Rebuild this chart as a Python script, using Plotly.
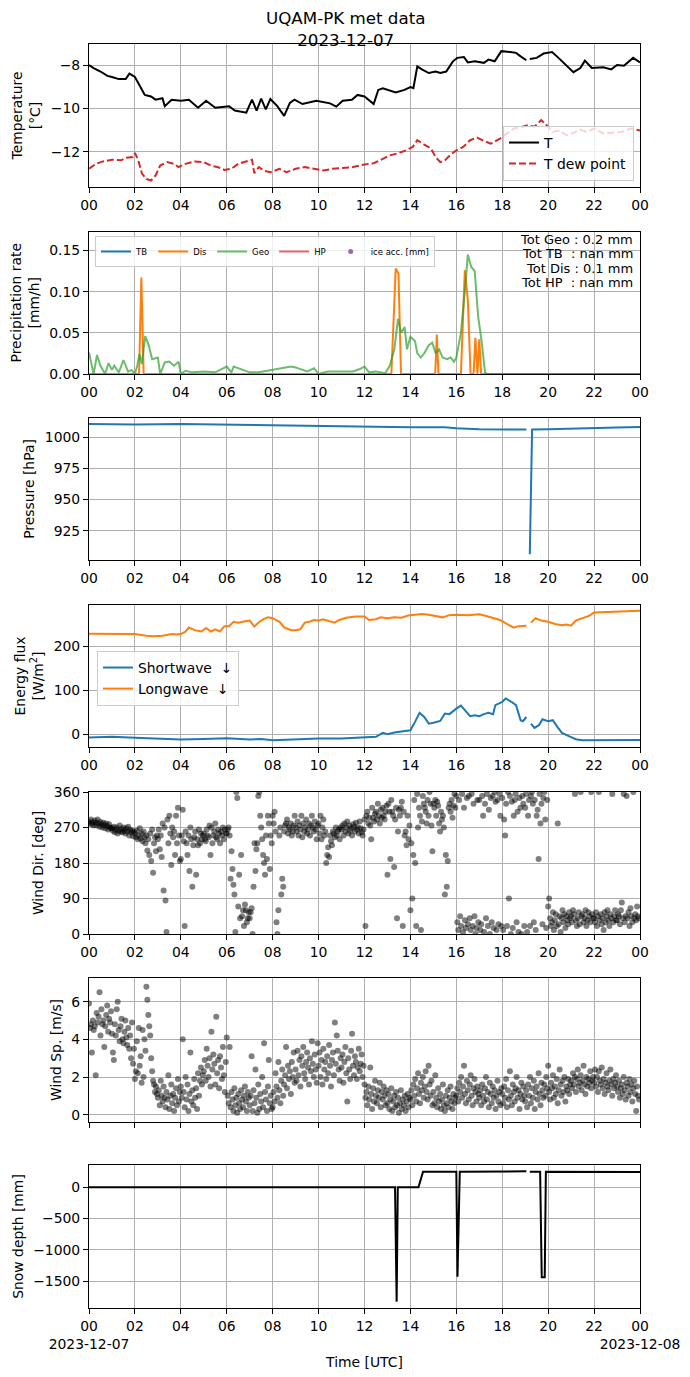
import plotly.graph_objects as go

# ---------------- data (hours UTC on 2023-12-07) ----------------
HOUR_TICKS = [0, 2, 4, 6, 8, 10, 12, 14, 16, 18, 20, 22, 24]
HOUR_LABELS = ["00", "02", "04", "06", "08", "10", "12", "14", "16", "18", "20", "22", "00"]
DATE_START = "2023-12-07"
DATE_END = "2023-12-08"

T_TIME = [0, 0.2, 0.5, 0.8, 1.0, 1.3, 1.6, 1.76, 2.0, 2.25, 2.43, 2.7, 2.9, 3.2, 3.3, 3.6, 4.0, 4.35, 4.75, 5.1,
          5.5, 6.1, 6.35, 6.85, 7.1, 7.3, 7.5, 7.7, 7.9, 8.2, 8.5, 8.75, 8.95, 9.3, 9.9, 10.5, 10.77, 11.05, 11.45, 11.7,
          12.0, 12.4, 12.6, 12.8, 13.07, 13.36, 13.74, 14.0, 14.13, 14.3, 14.5, 14.8, 15.1, 15.3, 15.56, 15.85, 16.04,
          16.33, 16.5, 16.8, 17.2, 17.4, 17.67, 17.96, 18.35, 18.6, 18.8, 19.05, 19.1, 19.2, 19.5, 19.8, 20.17, 20.45,
          20.74, 21.1, 21.4, 21.6, 21.9, 22.4, 22.75, 23.0, 23.3, 23.7, 24.0]
T_VAL = [-8.0, -8.14, -8.3, -8.5, -8.55, -8.65, -8.65, -8.4, -8.55, -9.0, -9.38, -9.45, -9.6, -9.53, -9.9, -9.6, -9.65,
         -9.6, -9.97, -9.65, -9.97, -9.9, -10.1, -10.2, -9.6, -10.1, -9.55, -10.05, -9.57, -9.9, -10.35, -9.75, -9.6,
         -9.8, -9.65, -9.77, -9.92, -9.65, -9.6, -9.38, -9.45, -9.8, -9.15, -9.07, -9.15, -9.27, -9.15, -9.02, -9.07,
         -8.06, -8.2, -8.37, -8.3, -8.37, -8.3, -7.83, -7.67, -7.63, -7.88, -7.83, -7.9, -7.75, -7.83, -7.36, -7.4,
         -7.44, -7.6, -7.78, None, -7.72, -7.67, -7.47, -7.4, -7.67, -7.98, -8.33, -8.14, -7.8, -8.14, -8.1, -8.2, -8.0,
         -8.03, -7.67, -7.88]

TD_TIME = [0, 0.3, 0.6, 1.0, 1.4, 1.6, 1.9, 2.0, 2.15, 2.3, 2.5, 2.7, 2.9, 3.1, 3.4, 3.7, 3.9, 4.2, 4.6, 5.0, 5.3, 5.6,
           5.9, 6.2, 6.5, 6.8, 7.1, 7.2, 7.4, 7.6, 7.9, 8.3, 8.6, 9.0, 9.4, 9.8, 10.2, 10.6, 11.0, 11.5, 12.0, 12.4,
           12.8, 13.1, 13.5, 13.8, 14.1, 14.3, 14.6, 14.9, 15.1, 15.3, 15.5, 15.8, 16.0, 16.3, 16.6, 16.9, 17.2, 17.5,
           17.9, 18.2, 18.5, 18.8, 19.1, 19.4, 19.7, 19.9, 20.2, 20.5, 20.8, 21.1, 21.4, 21.7, 22.0, 22.4, 22.8, 23.2,
           23.6, 24.0]
TD_VAL = [-12.79, -12.56, -12.45, -12.37, -12.4, -12.28, -12.25, -12.06, -12.4, -13.0, -13.26, -13.33, -13.1, -12.64,
          -12.48, -12.56, -12.71, -12.56, -12.45, -12.48, -12.64, -12.71, -12.84, -12.79, -12.56, -12.48, -12.37,
          -12.99, -12.71, -12.87, -12.95, -12.79, -12.95, -12.79, -12.71, -12.79, -12.87, -12.79, -12.76, -12.71,
          -12.59, -12.53, -12.33, -12.17, -12.06, -11.94, -11.78, -11.47, -11.67, -11.86, -12.25, -12.48, -12.4,
          -12.09, -11.94, -11.78, -11.47, -11.35, -11.5, -11.63, -11.4, -11.16, -10.93, -10.88, -10.78, -10.85,
          -10.54, -10.74, -11.09, -11.02, -11.24, -11.13, -10.98, -11.09, -10.93, -11.16, -11.13, -11.09, -10.93,
          -11.02]

# TB and HP gauges reported no data (nan) for the day
NAN_TIME = [0, 24]
TB_VAL = [None, None]
HP_VAL = [None, None]
ICE_VAL = [None, None]

DIS_TIME = [0, 2.18, 2.28, 2.38, 13.17, 13.36, 13.48, 13.59, 15.08, 15.15, 15.22, 16.2, 16.37, 16.5, 16.62, 16.75,
            16.83, 16.92, 17.0, 17.08, 24]
DIS_VAL = [0, 0, 0.117, 0, 0, 0.128, 0.122, 0, 0, 0.048, 0, 0, 0.126, 0.09, 0, 0, 0.044, 0, 0.042, 0, 0]

GEO_TIME = [0, 0.1, 0.2, 0.35, 0.5, 0.7, 0.85, 1.0, 1.1, 1.3, 1.5, 1.7, 1.85, 2.0, 2.1, 2.2, 2.3, 2.45, 2.6, 2.75,
            3.0, 3.1, 3.3, 3.5, 3.7, 3.9, 4.0, 4.2, 4.5, 5.0, 5.5, 6.0, 6.2, 6.3, 6.6, 7.0, 7.4, 8.2, 8.5, 8.8, 9.0,
            9.5, 9.8, 10.0, 10.4, 11.5, 11.8, 12.0, 12.2, 12.5, 12.9, 13.1, 13.3, 13.46, 13.6, 13.75, 13.85, 14.0,
            14.2, 14.3, 14.45, 14.6, 14.8, 14.95, 15.1, 15.25, 15.4, 15.6, 15.75, 15.9, 16.0, 16.2, 16.4, 16.5, 16.65,
            16.8, 16.95, 17.1, 17.25, 17.35, 24.0]
GEO_VAL = [0.026, 0.012, 0.0, 0.023, 0.01, 0.0, 0.013, 0.005, 0.01, 0.002, 0.017, 0.003, 0.005, 0.0, 0.01, 0.024,
           0.012, 0.046, 0.035, 0.018, 0.02, 0.0, 0.014, 0.015, 0.01, 0.015, 0.0, 0.004, 0.002, 0.003, 0.002, 0.009,
           0.002, 0.009, 0.006, 0.002, 0.002, 0.006, 0.007, 0.009, 0.008, 0.003, 0.007, 0.0, 0.003, 0.003, 0.006,
           0.009, 0.002, 0.003, 0.001, 0.01, 0.03, 0.067, 0.05, 0.057, 0.03, 0.045, 0.04, 0.025, 0.02, 0.025, 0.035,
           0.038, 0.025, 0.03, 0.02, 0.018, 0.02, 0.015, 0.02, 0.05, 0.11, 0.145, 0.13, 0.125, 0.07, 0.04, 0.002,
           0.0, 0.0]

PRECIP_TOTALS = ["Tot Geo : 0.2 mm", "Tot TB\u00a0 : nan mm", "Tot Dis : 0.1 mm", "Tot HP\u00a0 : nan mm"]

P_TIME = [0, 2, 4, 6, 8, 10, 10.2, 12, 14, 15.5, 16, 17, 18.5, 19.05, 19.12, 19.2, 19.3, 20, 21, 22, 23, 24]
P_VAL = [1010.7, 1010.2, 1010.7, 1010.1, 1009.6, 1009.1, 1008.6, 1008.6, 1008.0, 1008.0, 1007.2, 1006.4, 1005.9,
         1006.2, None, 906, 1006.3, 1006.4, 1006.7, 1007.2, 1007.8, 1008.3]

LW_TIME = [0, 1, 2, 2.5, 2.8, 3.2, 3.6, 3.8, 4.0, 4.2, 4.35, 4.6, 4.9, 5.1, 5.3, 5.5, 5.7, 5.9, 6.1, 6.3, 6.5, 6.8,
           7.0, 7.2, 7.4, 7.6, 7.8, 8.0, 8.3, 8.5, 8.8, 9.0, 9.2, 9.4, 9.6, 9.8, 10.0, 10.2, 10.5, 10.7, 10.9, 11.2,
           11.6, 12.0, 12.2, 12.5, 12.7, 13.0, 13.3, 13.6, 13.9, 14.2, 14.5, 14.8, 15.2, 15.4, 15.7, 16.0, 16.5, 17.0,
           17.3, 17.6, 17.9, 18.2, 18.5, 18.7, 19.05, 19.15, 19.25, 19.45, 19.7, 20.0, 20.3, 20.6, 20.8, 21.0, 21.2,
           21.5, 21.8, 22.0, 22.5, 23.0, 23.5, 24.0]
LW_VAL = [228, 227, 227, 223.5, 222, 223.5, 227, 226, 227, 232.6, 242, 236, 233, 241, 233, 238, 233, 245, 245, 255,
          253, 256, 257.6, 244, 254, 261, 265, 263, 255, 242, 236, 236, 238, 253, 255, 259, 257.6, 260.6, 257, 253,
          259, 264, 267, 267, 259, 260.6, 265, 263, 265, 264, 269, 270, 272.7, 271, 268, 265, 270, 271, 270, 272,
          268, 263, 259, 250, 241.7, 245, 246, None, 253, 263, 257.6, 255, 250, 247, 248.5, 246, 257.6, 263, 269,
          275.8, 276.5, 278, 278.8, 280]

SW_TIME = [0, 1, 2, 3, 4, 5, 6, 7, 7.5, 8, 9, 10, 11, 12, 12.5, 12.8, 13.0, 13.3, 13.7, 14.0, 14.2, 14.4, 14.6, 14.8,
           15.0, 15.3, 15.5, 15.7, 16.0, 16.2, 16.4, 16.6, 16.8, 17.0, 17.2, 17.4, 17.6, 17.7, 18.0, 18.15, 18.4,
           18.6, 18.8, 18.9, 19.05, 19.15, 19.25, 19.4, 19.6, 19.75, 20.0, 20.2, 20.4, 20.6, 20.9, 21.2, 21.5, 22,
           23, 24]
SW_VAL = [-7.6, -6, -8.3, -10.6, -12, -10.6, -9, -12, -10.6, -13.6, -11.4, -9.8, -9.8, -8.3, -6, 3, 0, 3.8, 6, 9, 28,
          48.5, 39, 24, 25.8, 30, 47, 45.5, 58, 65, 53, 41, 43, 41, 45.5, 48.5, 45.5, 66, 73.5, 81, 73.5, 66, 31.8,
          29.5, 39, None, 24, 14.4, 20.5, 34, 29.5, 31.8, 16.7, 3, -4.5, -11.4, -13.6, -13.6, -13, -12.9]

# wind: 24 samples per hour (one row per hour)
WIND_SAMPLES_PER_HOUR = 24
WD_ROWS = [
    [285, 280, 290, 278, 283, 275, 288, 282, 276, 290, 280, 272, 284, 278, 270, 282, 276, 268, 280, 274, 265, 278, 270, 268],
    [268, 262, 272, 258, 265, 270, 255, 262, 275, 260, 266, 258, 270, 262, 255, 268, 260, 272, 250, 264, 258, 262, 248, 260],
    [255, 245, 262, 240, 250, 268, 242, 255, 235, 260, 245, 230, 250, 212, 240, 200, 255, 185, 265, 155, 230, 245, 210, 250],
    [240, 265, 215, 250, 195, 280, 110, 270, 85, 5, 290, 230, 300, 255, 175, 270, 245, 260, 200, 300, 230, 320, 250, 185],
    [190, 250, 315, 235, 20, 260, 230, 200, 250, 160, 270, 240, 120, 225, 245, 260, 150, 240, 225, 265, 230, 255, 240, 250],
    [255, 240, 235, 265, 250, 245, 275, 200, 270, 230, 250, 260, 280, 245, 240, 265, 255, 230, 260, 250, 270, 240, 265, 255],
    [255, 265, 270, 250, 140, 210, 165, 125, 100, 5, 360, 345, 70, 150, 40, 200, 45, 60, 20, 75, 60, 30, 40, 55],
    [40, 55, 65, 0, 120, 230, 160, 215, 230, 350, 360, 300, 270, 240, 200, 180, 150, 250, 190, 300, 280, 165, 250, 230],
    [300, 280, 310, 260, 30, 0, 60, 250, 270, 100, 140, 120, 260, 275, 280, 290, 255, 270, 265, 280, 250, 260, 275, 300],
    [270, 260, 285, 250, 275, 265, 300, 245, 280, 260, 270, 290, 255, 265, 280, 250, 275, 300, 270, 260, 285, 265, 240, 275],
    [280, 255, 300, 240, 270, 290, 250, 260, 180, 200, 220, 195, 250, 235, 225, 260, 255, 245, 270, 250, 260, 265, 240, 270],
    [265, 275, 250, 280, 260, 270, 285, 255, 275, 262, 268, 250, 278, 272, 260, 282, 265, 270, 255, 285, 268, 258, 250, 265],
    [290, 20, 300, 310, 280, 295, 275, 240, 320, 295, 285, 305, 310, 290, 330, 300, 280, 315, 295, 320, 300, 290, 310, 325],
    [150, 330, 310, 190, 340, 310, 300, 170, 290, 320, 40, 260, 315, 300, 320, 335, 20, 310, 250, 260, 225, 300, 240, 275],
    [60, 230, 90, 200, 340, 180, 20, 355, 270, 320, 300, 10, 285, 350, 330, 320, 310, 280, 340, 300, 360, 330, 275, 210],
    [330, 320, 340, 300, 335, 325, 280, 260, 310, 290, 300, 270, 100, 200, 120, 185, 320, 330, 310, 340, 295, 325, 355, 320],
    [350, 30, 10, 340, 45, 20, 355, 5, 320, 35, 15, 345, 25, 350, 40, 10, 355, 20, 330, 45, 0, 15, 340, 30],
    [340, 10, 25, 350, 300, 5, 330, 40, 355, 20, 315, 0, 345, 30, 350, 15, 360, 335, 10, 340, 25, 355, 300, 20],
    [345, 10, 290, 250, 330, 20, 360, 90, 350, 0, 335, 15, 300, 340, 355, 30, 310, 5, 345, 320, 0, 350, 330, 20],
    [320, 355, 5, 300, 340, 20, 350, 360, 330, 30, 340, 10, 300, 315, 190, 355, 280, 330, 25, 345, 360, 290, 15, 340],
    [70, 90, 40, 20, 30, 55, 10, 35, 50, 20, 280, 25, 45, 5, 40, 60, 30, 50, 15, 45, 35, 25, 55, 40],
    [45, 30, 60, 50, 355, 35, 20, 40, 55, 25, 360, 45, 50, 30, 40, 60, 20, 35, 55, 45, 30, 360, 50, 40],
    [40, 30, 55, 20, 45, 360, 35, 50, 25, 40, 10, 55, 30, 45, 60, 35, 20, 50, 40, 355, 30, 45, 60, 35],
    [35, 50, 45, 25, 60, 80, 40, 355, 30, 45, 350, 40, 55, 20, 65, 45, 30, 360, 40, 50, 35, 70, 45, 40],
]
WS_ROWS = [
    [5.9, 4.6, 4.8, 3.3, 5.0, 4.5, 4.7, 2.1, 5.4, 4.9, 5.2, 6.5, 4.2, 5.6, 4.8, 5.0, 3.6, 4.7, 5.3, 5.8, 4.4, 5.1, 4.9, 5.5],
    [4.3, 3.3, 2.9, 4.8, 4.2, 5.6, 6.0, 4.5, 3.9, 4.7, 5.1, 4.0, 3.8, 4.4, 5.0, 4.1, 3.7, 4.6, 3.5, 4.2, 3.0, 4.9, 2.7, 3.5],
    [1.9, 2.3, 3.9, 2.2, 4.6, 2.6, 3.1, 1.7, 4.5, 2.0, 4.0, 3.4, 6.8, 6.1, 5.3, 4.7, 4.2, 3.0, 2.3, 1.8, 1.6, 1.2, 1.5, 1.1],
    [0.9, 1.3, 0.5, 1.8, 1.0, 0.7, 1.5, 0.9, 0.4, 1.2, 0.8, 2.1, 0.3, 1.0, 1.6, 0.6, 1.1, 0.2, 0.9, 1.4, 0.5, 1.9, 0.7, 1.2],
    [1.5, 0.9, 4.0, 1.2, 0.4, 2.0, 0.8, 1.6, 0.2, 1.1, 3.3, 0.7, 1.3, 0.5, 1.9, 0.9, 1.4, 0.3, 2.2, 1.0, 1.8, 2.5, 1.6, 2.1],
    [2.3, 2.9, 1.8, 3.5, 2.6, 2.0, 3.0, 1.5, 4.4, 2.4, 3.2, 2.7, 1.6, 5.2, 2.2, 2.9, 1.4, 3.1, 2.5, 1.9, 3.6, 2.1, 1.2, 2.8],
    [4.1, 1.0, 0.6, 3.6, 0.4, 1.2, 0.8, 0.2, 1.4, 0.5, 0.9, 0.1, 1.1, 0.6, 0.3, 1.3, 0.8, 0.4, 1.0, 1.5, 0.7, 0.2, 1.2, 0.9],
    [0.5, 1.0, 3.1, 0.2, 1.3, 0.6, 2.4, 0.9, 0.1, 1.6, 0.3, 1.1, 0.7, 2.0, 0.4, 3.8, 1.2, 0.8, 0.2, 1.5, 2.9, 0.6, 1.0, 0.3],
    [0.4, 1.2, 0.7, 2.2, 1.5, 0.9, 2.8, 1.3, 0.6, 1.8, 2.4, 1.0, 1.6, 2.1, 3.6, 1.4, 2.6, 1.9, 2.3, 1.1, 2.8, 2.0, 3.3, 1.7],
    [2.4, 1.8, 3.4, 2.1, 2.9, 1.5, 3.1, 2.6, 3.6, 2.2, 1.9, 2.8, 3.3, 2.5, 1.6, 3.0, 2.3, 3.9, 2.7, 2.0, 3.2, 2.4, 1.7, 3.8],
    [2.6, 3.3, 2.0, 2.9, 1.6, 3.5, 2.4, 2.8, 1.9, 3.1, 2.2, 3.7, 2.6, 1.5, 2.9, 3.3, 2.1, 4.9, 2.7, 4.2, 3.4, 2.4, 1.8, 3.0],
    [2.5, 3.2, 1.7, 2.8, 3.6, 2.2, 0.7, 3.0, 2.4, 1.9, 3.4, 4.3, 2.6, 2.1, 3.1, 2.8, 1.9, 2.5, 3.5, 2.3, 2.7, 3.2, 2.0, 2.6],
    [1.6, 0.9, 1.2, 0.5, 1.5, 0.8, 2.5, 1.1, 0.3, 1.4, 0.7, 1.8, 1.0, 0.6, 1.3, 0.9, 1.7, 0.4, 1.2, 0.8, 1.5, 1.0, 0.5, 1.3],
    [0.6, 1.1, 0.3, 0.8, 1.4, 0.2, 0.7, 1.0, 0.4, 1.2, 0.5, 0.9, 0.1, 0.6, 1.3, 0.3, 0.8, 0.5, 1.0, 0.2, 0.7, 1.1, 0.4, 0.9],
    [0.8, 1.3, 0.5, 1.6, 1.0, 1.9, 0.7, 1.4, 2.2, 1.1, 0.6, 1.7, 1.3, 2.0, 0.9, 1.5, 2.3, 1.2, 0.8, 2.6, 1.6, 1.0, 1.8, 0.5],
    [1.2, 0.6, 2.1, 0.9, 0.4, 1.4, 0.7, 1.1, 0.3, 0.8, 1.6, 0.5, 0.2, 1.0, 0.6, 1.3, 0.4, 0.9, 1.5, 0.7, 0.3, 1.1, 0.6, 0.9],
    [1.0, 1.4, 0.7, 1.7, 1.2, 2.0, 0.9, 1.5, 2.6, 1.1, 0.6, 1.8, 1.3, 0.8, 1.6, 2.1, 1.0, 0.5, 1.4, 1.9, 1.2, 0.7, 1.5, 1.1],
    [0.9, 1.3, 0.5, 1.6, 1.0, 0.7, 1.4, 2.0, 0.8, 1.2, 0.4, 1.7, 1.1, 0.6, 1.5, 0.9, 1.3, 0.3, 1.0, 1.8, 0.7, 1.2, 0.5, 1.4],
    [1.1, 0.6, 1.5, 0.9, 1.9, 0.4, 1.3, 0.8, 2.3, 1.0, 0.5, 1.6, 1.2, 0.7, 1.4, 2.0, 0.9, 1.3, 0.3, 1.1, 1.7, 0.8, 1.5, 1.0],
    [0.7, 1.3, 0.4, 1.6, 1.0, 2.0, 0.6, 1.4, 0.9, 1.8, 0.3, 1.2, 1.5, 0.8, 2.2, 1.1, 0.5, 1.7, 1.3, 0.9, 1.6, 1.0, 2.0, 1.4],
    [2.6, 1.2, 0.8, 1.7, 1.4, 2.1, 0.9, 1.5, 1.1, 1.9, 0.6, 1.3, 2.4, 1.6, 1.0, 1.8, 1.2, 2.0, 0.7, 1.5, 1.3, 1.9, 1.1, 1.6],
    [1.8, 1.4, 2.2, 1.6, 2.0, 1.2, 1.9, 2.4, 1.5, 1.7, 2.1, 1.3, 1.8, 2.6, 1.6, 1.1, 2.0, 1.5, 1.9, 1.7, 2.3, 1.4, 1.8, 2.0],
    [1.7, 2.4, 1.5, 2.0, 1.2, 2.3, 1.8, 1.6, 2.5, 1.4, 1.9, 1.1, 1.7, 2.2, 1.5, 1.3, 1.8, 2.4, 1.6, 1.0, 1.9, 1.4, 1.7, 2.1],
    [1.5, 1.2, 1.8, 0.9, 1.4, 1.6, 1.1, 2.0, 1.3, 0.8, 1.7, 1.5, 1.0, 1.9, 1.2, 1.6, 0.7, 1.4, 1.8, 1.1, 0.2, 1.5, 1.0, 0.8],
]

SD_TIME = [0, 13.33, 13.4, 13.45, 13.5, 14.35, 14.55, 16.0, 16.05, 16.15, 19.05, 19.12, 19.2, 19.65, 19.72, 19.85, 19.9, 24]
SD_VAL = [0, 0, -1830, 0, 0, 0, 250, 250, -1430, 250, 255, None, 250, 250, -1440, -1440, 250, 245]

# ---------------- derived sampling times for wind ----------------
WIND_T, WD_VAL, WS_VAL = [], [], []
for h, (rd, rs) in enumerate(zip(WD_ROWS, WS_ROWS)):
    for k, (d, s) in enumerate(zip(rd, rs)):
        WIND_T.append(h + k / WIND_SAMPLES_PER_HOUR)
        WD_VAL.append(d)
        WS_VAL.append(s)

# ---------------- figure ----------------
W, H = 690, 1377
FONT = "DejaVu Sans"
FS = 13.9
X_DOM = [89 / W, 640 / W]
PANELS_PX = [(44, 187), (231.5, 374), (418, 560), (605, 747), (792, 934), (978, 1122), (1165, 1308)]
Y_DOMS = [[1 - b / H, 1 - t / H] for t, b in PANELS_PX]

C_BLUE, C_ORANGE, C_GREEN, C_RED, C_PURPLE = "#1f77b4", "#ff7f0e", "#2ca02c", "#d62728", "#9467bd"
DOT = "rgba(0,0,0,0.5)"

fig = go.Figure()

def sc(x, y, n, **kw):
    ax = "" if n == 1 else str(n)
    fig.add_trace(go.Scatter(x=x, y=y, xaxis="x" + ax, yaxis="y" + ax, **kw))

# panel 1
sc(T_TIME, T_VAL, 1, mode="lines", name="T", line=dict(color="black", width=2), legend="legend")
sc(TD_TIME, TD_VAL, 1, mode="lines", name="T dew point", line=dict(color=C_RED, width=2, dash="7px,3px"),
   legend="legend")
# panel 2
sc(NAN_TIME, TB_VAL, 2, mode="lines", name="TB", line=dict(color=C_BLUE, width=2), legend="legend2")
sc(DIS_TIME, DIS_VAL, 2, mode="lines", name="Dis", line=dict(color=C_ORANGE, width=2), legend="legend2")
sc(GEO_TIME, GEO_VAL, 2, mode="lines", name="Geo", line=dict(color="rgba(44,160,44,0.7)", width=2),
   legend="legend2")
sc(NAN_TIME, HP_VAL, 2, mode="lines", name="HP", line=dict(color="rgba(214,39,40,0.7)", width=2), legend="legend2")
sc(NAN_TIME, ICE_VAL, 2, mode="markers", name="ice acc. [mm]", marker=dict(color=C_PURPLE, size=5),
   legend="legend2")
# panel 3
sc(P_TIME, P_VAL, 3, mode="lines", line=dict(color=C_BLUE, width=2), showlegend=False)
# panel 4
sc(SW_TIME, SW_VAL, 4, mode="lines", name="Shortwave\u00a0 \u2193", line=dict(color=C_BLUE, width=2),
   legend="legend3")
sc(LW_TIME, LW_VAL, 4, mode="lines", name="Longwave\u00a0 \u2193", line=dict(color=C_ORANGE, width=2),
   legend="legend3")
# panel 5, 6
sc(WIND_T, WD_VAL, 5, mode="markers", marker=dict(color=DOT, size=6), showlegend=False)
sc(WIND_T, WS_VAL, 6, mode="markers", marker=dict(color=DOT, size=6), showlegend=False)
# panel 7
sc(SD_TIME, SD_VAL, 7, mode="lines", line=dict(color="black", width=2), showlegend=False)

Y_TITLES = ["Temperature<br>[°C]", "Precipitation rate<br>[mm/h]", "Pressure [hPa]",
            "Energy flux<br>[W/m<sup>2</sup>]", "Wind Dir. [deg]", "Wind Sp. [m/s]", "Snow depth [mm]"]
Y_RANGES = [[-13.63, -7.03], [0, 0.173], [901.4, 1015.5], [-29, 293], [0, 360], [-0.39, 7.26], [-1932, 357]]
Y_TICKS = [[-12, -10, -8], [0, 0.05, 0.10, 0.15], [925, 950, 975, 1000], [0, 100, 200],
           [0, 90, 180, 270, 360], [0, 2, 4, 6], [-1500, -1000, -500, 0]]

axis_common = dict(showgrid=True, gridcolor="#b0b0b0", gridwidth=1, showline=True, mirror=True,
                   linecolor="black", linewidth=1.1, ticks="outside", ticklen=5, tickwidth=1.1,
                   tickcolor="black", zeroline=False, automargin=False, tickangle=0,
                   tickfont=dict(family=FONT, size=FS, color="black"))

layout = dict(width=W, height=H, autosize=False, margin=dict(l=0, r=0, t=0, b=0),
              paper_bgcolor="white", plot_bgcolor="white",
              font=dict(family=FONT, size=FS, color="black"))

for i in range(7):
    n = i + 1
    ax = "" if n == 1 else str(n)
    if n == 6:
        ticktext = [""] * len(HOUR_TICKS)
    elif n == 7:
        ticktext = list(HOUR_LABELS)
        ticktext[0] = HOUR_LABELS[0] + "<br>" + DATE_START
        ticktext[-1] = HOUR_LABELS[-1] + "<br>" + DATE_END
    else:
        ticktext = HOUR_LABELS
    xa = dict(axis_common, domain=X_DOM, range=[0, 24], tickmode="array", tickvals=HOUR_TICKS,
              ticktext=ticktext, anchor="y" + ax)
    if n == 7:
        xa["title"] = dict(text="Time [UTC]", font=dict(family=FONT, size=FS), standoff=6)
    ya = dict(axis_common, domain=Y_DOMS[i], range=Y_RANGES[i], tickmode="array", tickvals=Y_TICKS[i],
              anchor="x" + ax, title=dict(text=Y_TITLES[i], font=dict(family=FONT, size=FS), standoff=6))
    if n == 2:
        ya["tickformat"] = ".2f"
    layout["xaxis" + ax] = xa
    layout["yaxis" + ax] = ya

layout["legend"] = dict(x=634 / W, y=1 - 181 / H, xanchor="right", yanchor="bottom",
                        bgcolor="rgba(255,255,255,0.8)", bordercolor="#cccccc", borderwidth=1,
                        font=dict(family=FONT, size=FS), itemwidth=30, tracegroupgap=0)
layout["legend2"] = dict(x=95 / W, y=1 - 236 / H, xanchor="left", yanchor="top", orientation="h",
                         bgcolor="rgba(255,255,255,0.8)", bordercolor="#cccccc", borderwidth=1,
                         font=dict(family=FONT, size=8.5), itemwidth=30)
layout["legend3"] = dict(x=97 / W, y=1 - 651 / H, xanchor="left", yanchor="top",
                         bgcolor="rgba(255,255,255,0.8)", bordercolor="#cccccc", borderwidth=1,
                         font=dict(family=FONT, size=FS), itemwidth=30)

annotations = [
    dict(text="UQAM-PK met data<br>2023-12-07", x=345 / W, y=1 - 6 / H, xref="paper", yref="paper",
         xanchor="center", yanchor="top", showarrow=False, font=dict(family=FONT, size=16.7, color="black")),
]
for j, line in enumerate(PRECIP_TOTALS):
    annotations.append(dict(text=line, x=635 / W, y=1 - (239.5 + 14.3 * j) / H, xref="paper", yref="paper",
                            xanchor="right", yanchor="middle", showarrow=False,
                            font=dict(family=FONT, size=13, color="black")))
layout["annotations"] = annotations

fig.update_layout(layout)
fig.write_html("out.html", config={"displayModeBar": False},
               post_script="document.body.style.margin='0';document.body.style.overflow='hidden';")
